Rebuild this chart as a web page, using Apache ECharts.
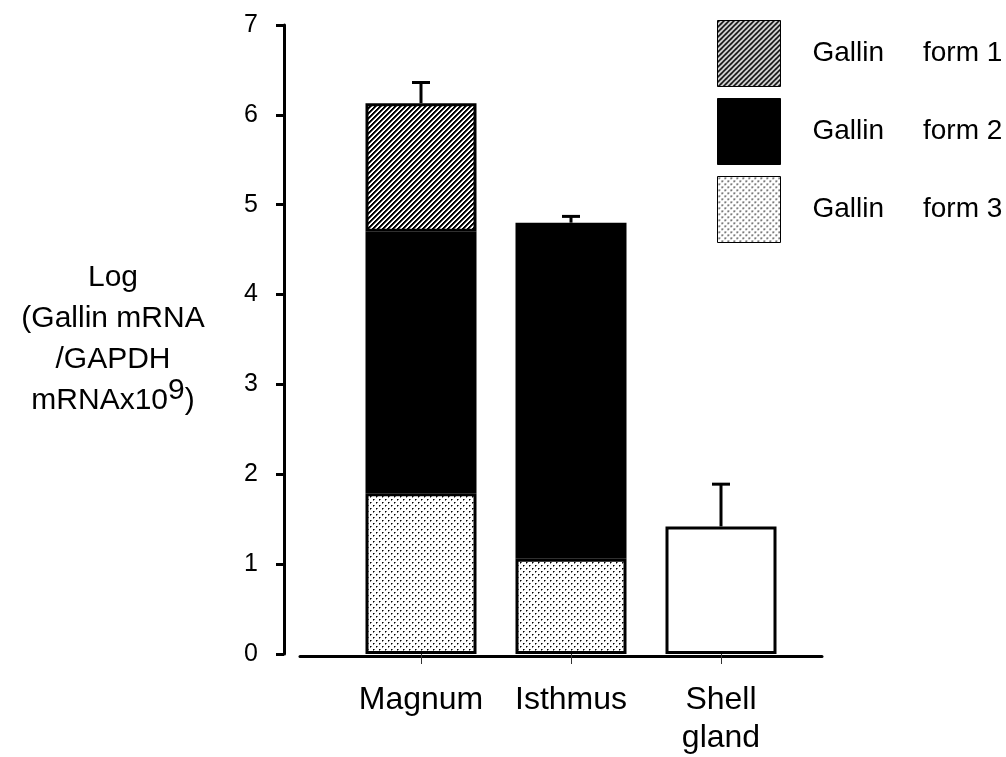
<!DOCTYPE html>
<html>
<head>
<meta charset="utf-8">
<script src="https://cdn.jsdelivr.net/npm/echarts@6/dist/echarts.min.js"></script>
<style>html,body{margin:0;padding:0;background:#fff}#c{width:1006px;height:757px}</style>
</head>
<body>
<div id="c"></div>
<script>
// ---- data ----
const categories = ['Magnum', 'Isthmus', 'Shell\ngland'];
const seriesNames = ['Gallin form 1', 'Gallin form 2', 'Gallin form 3'];
const form3 = [1.79, 1.06, '-'];
const form2 = [2.91, 3.74, '-'];
const form1 = [1.43, '-', '-'];
const shellGland = ['-', '-', 1.42];
const errUp = [0.23, 0.07, 0.47];
const yTicks = [0, 1, 2, 3, 4, 5, 6, 7];

// ---- patterns ----
function stripePattern() {
  const s = 5, c = document.createElement('canvas');
  c.width = s; c.height = s;
  const ctx = c.getContext('2d');
  const img = ctx.createImageData(s, s);
  for (let y = 0; y < s; y++) for (let x = 0; x < s; x++) {
    const v = (x + y) % s;
    const g = v === 0 || v === 1 ? 0 : (v === 2 ? 90 : 255);
    const i = (y * s + x) * 4;
    img.data[i] = img.data[i + 1] = img.data[i + 2] = g; img.data[i + 3] = 255;
  }
  ctx.putImageData(img, 0, 0);
  return c;
}
function dotPattern() {
  const s = 6, c = document.createElement('canvas');
  c.width = s; c.height = s;
  const ctx = c.getContext('2d');
  ctx.fillStyle = '#fff'; ctx.fillRect(0, 0, s, s);
  ctx.fillStyle = '#777';
  ctx.fillRect(2, 1, 1, 1); ctx.fillRect(1, 2, 1, 1);
  ctx.fillRect(5, 4, 1, 1); ctx.fillRect(4, 5, 1, 1);
  ctx.fillStyle = '#000';
  ctx.fillRect(1, 1, 1, 1); ctx.fillRect(4, 4, 1, 1);
  return c;
}
const stripeFill = { image: stripePattern(), repeat: 'repeat' };
const dotFill = { image: dotPattern(), repeat: 'repeat' };

const tops = categories.map((_, i) => {
  let t = 0;
  [form3, form2, form1, shellGland].forEach(a => { if (typeof a[i] === 'number') t += a[i]; });
  return t;
});
const errData = categories.map((_, i) => [i, tops[i], errUp[i]]);

const FONT = 'Liberation Sans, Arial, Helvetica, sans-serif';
const barBorder = { borderColor: '#000', borderWidth: 3 };

const chart = echarts.init(document.getElementById('c'), null, { renderer: 'canvas' });
chart.setOption({
  animation: false,
  backgroundColor: '#fff',
  textStyle: { fontFamily: FONT, color: '#000' },
  legend: {
    data: seriesNames,
    orient: 'vertical',
    left: 712, top: 15,
    itemWidth: 63, itemHeight: 66, itemGap: 11,
    icon: 'rect',
    itemStyle: { borderColor: '#000', borderWidth: 1 },
    formatter: n => n.replace(' ', '     '),
    textStyle: { fontFamily: FONT, fontSize: 28, color: '#000', padding: [0, 0, 0, 27] }
  },
  grid: [
    { left: 346, right: 210, top: 25, bottom: 99 },
    { left: 300, right: 184, top: 600, bottom: 101 }
  ],
  xAxis: [
    {
      type: 'category', data: categories, gridIndex: 0,
      axisLine: { show: false },
      axisTick: { show: true, alignWithLabel: true, length: 10, lineStyle: { color: '#333', width: 1 } },
      axisLabel: { interval: 0, hideOverlap: false, fontFamily: FONT, fontSize: 32, color: '#000', margin: 27, lineHeight: 38 }
    },
    {
      type: 'value', gridIndex: 1, min: 0, max: 1,
      axisLine: { show: true, lineStyle: { color: '#000', width: 3 } },
      axisTick: { show: false }, axisLabel: { show: false }, splitLine: { show: false }
    }
  ],
  yAxis: [
    {
      type: 'value', gridIndex: 0, min: yTicks[0], max: yTicks[yTicks.length - 1], interval: 1,
      offset: 62,
      axisLine: { show: true, lineStyle: { color: '#000', width: 3 } },
      axisTick: { show: true, length: 8, lineStyle: { color: '#000', width: 3 } },
      axisLabel: { fontFamily: FONT, fontSize: 25, color: '#000', margin: 26 },
      splitLine: { show: false },
      name: 'Log\n(Gallin mRNA\n/GAPDH\nmRNAx10{sup|9})',
      nameLocation: 'middle', nameRotate: 0, nameGap: 171,
      nameTextStyle: {
        fontFamily: FONT, fontSize: 30, color: '#000', align: 'center', lineHeight: 41,
        rich: { sup: { fontFamily: FONT, fontSize: 30, color: '#000', padding: [0, 0, 20, 0] } }
      }
    },
    { type: 'value', gridIndex: 1, show: false }
  ],
  series: [
    { name: seriesNames[2], type: 'bar', stack: 's', barWidth: 111, data: form3,
      itemStyle: Object.assign({ color: dotFill }, barBorder) },
    { name: seriesNames[1], type: 'bar', stack: 's', barWidth: 111, data: form2,
      itemStyle: Object.assign({ color: '#000' }, barBorder) },
    { name: seriesNames[0], type: 'bar', stack: 's', barWidth: 111, data: form1,
      itemStyle: Object.assign({ color: stripeFill }, barBorder) },
    { name: 'Shell gland', type: 'bar', stack: 's', barWidth: 111, data: shellGland,
      itemStyle: Object.assign({ color: '#fff' }, barBorder) },
    {
      name: 'error', type: 'custom', data: errData, z: 5,
      renderItem: function (params, api) {
        const x = api.value(0), top = api.value(1), e = api.value(2);
        const p0 = api.coord([x, top]);
        const p1 = api.coord([x, top + e]);
        return {
          type: 'group',
          children: [
            { type: 'line', shape: { x1: p0[0], y1: p0[1], x2: p1[0], y2: p1[1] }, style: { stroke: '#000', lineWidth: 3 } },
            { type: 'line', shape: { x1: p1[0] - 9, y1: p1[1], x2: p1[0] + 9, y2: p1[1] }, style: { stroke: '#000', lineWidth: 3 } }
          ]
        };
      }
    }
  ]
});
</script>
</body>
</html>
